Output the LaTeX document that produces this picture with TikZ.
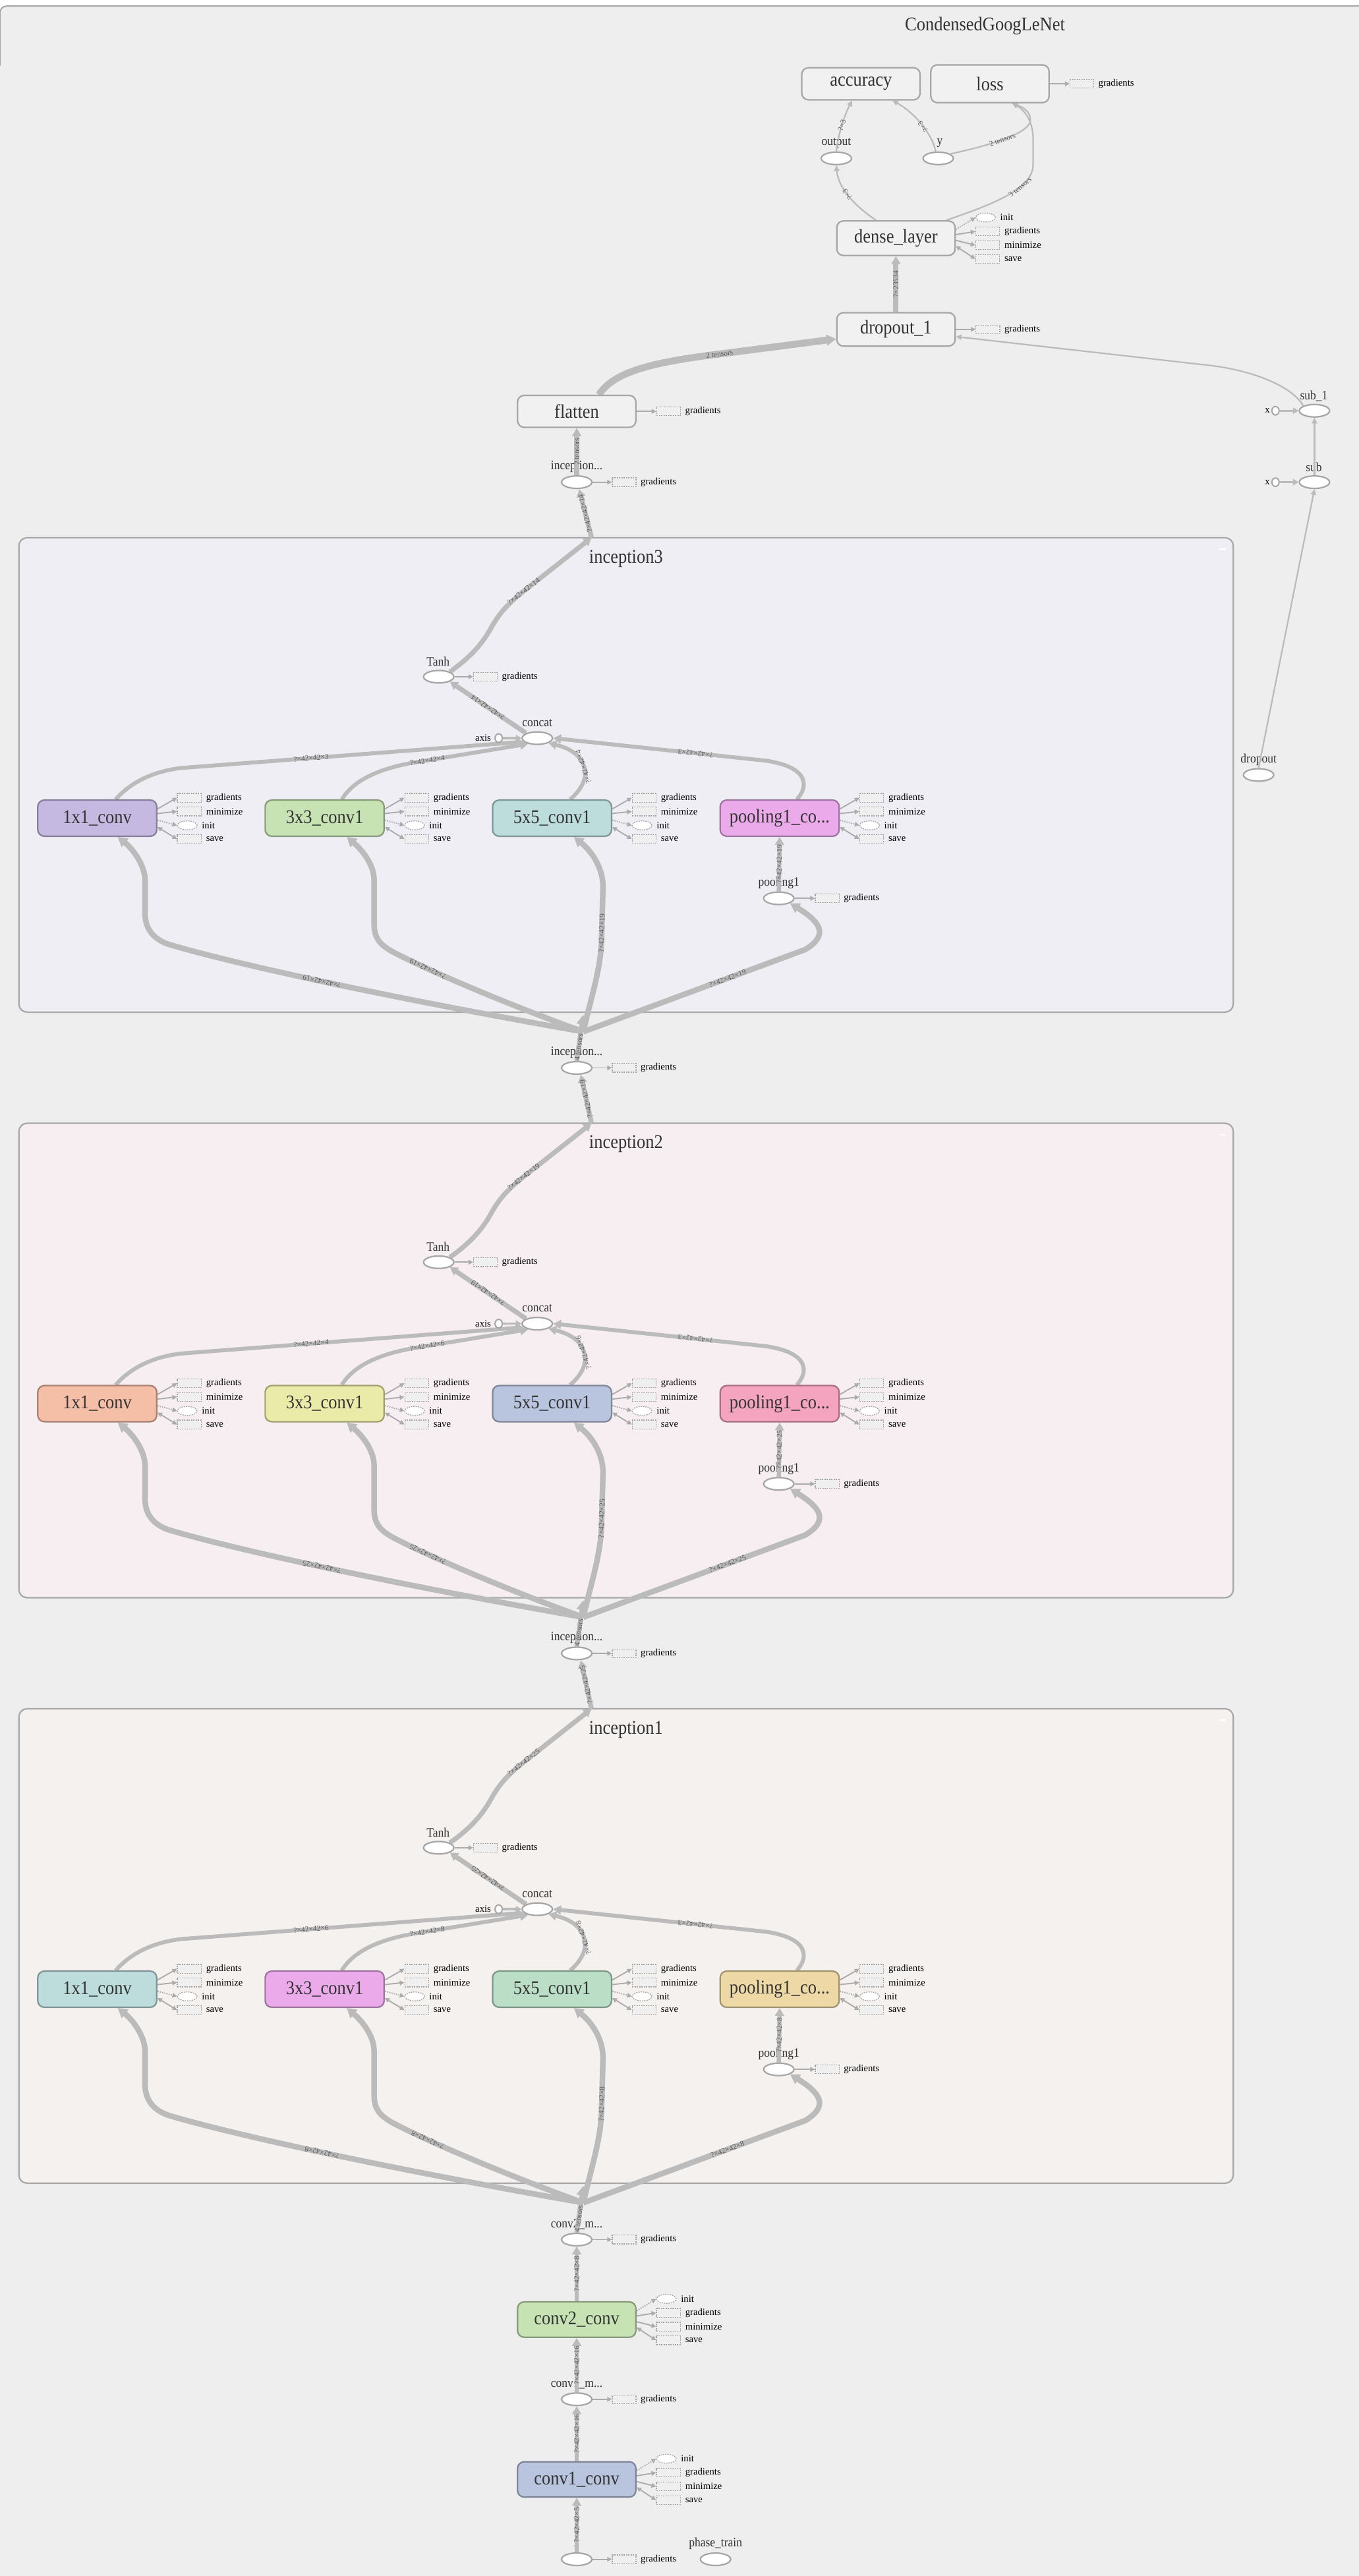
\documentclass[tikz,border=0pt]{standalone}
\usepackage{fontspec}
\setmainfont{Liberation Serif}
\newfontfamily\condserif{Liberation Serif}[FakeStretch=0.9]
\usetikzlibrary{shapes.geometric,arrows.meta,calc}
\pgfdeclarelayer{frames}
\pgfdeclarelayer{edgelayer}
\pgfsetlayers{frames,edgelayer,main}

% palette
\definecolor{pagebg}{HTML}{EEEEEE}
\definecolor{frameline}{HTML}{A6A6A6}
\definecolor{grpline}{HTML}{A8A8A8}
\definecolor{conncol}{HTML}{BBBBBB}
\definecolor{sidecol}{HTML}{ABABAB}
\definecolor{nodeline}{HTML}{A6A6A6}
\definecolor{plainfill}{HTML}{F1F1F1}
\definecolor{gboxfill}{HTML}{EFEFEF}
\definecolor{dashcol}{HTML}{A4A4A4}
\definecolor{darktext}{HTML}{333333}
\definecolor{edgetext}{HTML}{5C5C5C}
\definecolor{bgthree}{HTML}{F0EEF5}
\definecolor{bgtwo}{HTML}{F6EEF1}
\definecolor{bgone}{HTML}{F5F1EF}
\definecolor{cpurple}{HTML}{C6B9E1}
\definecolor{cgreen}{HTML}{C7E3B3}
\definecolor{cteal}{HTML}{BCDDDC}
\definecolor{cmagenta}{HTML}{EBABEB}
\definecolor{csalmon}{HTML}{F5BEA6}
\definecolor{cyellow}{HTML}{EBEBA9}
\definecolor{cblue}{HTML}{B9C5DE}
\definecolor{cpink}{HTML}{F5A4BF}
\definecolor{cmint}{HTML}{BADFC6}
\definecolor{ctan}{HTML}{EED8A6}

\newcommand{\boxfnt}{\condserif\fontsize{11.8}{13}\selectfont}
\newcommand{\ellfnt}{\condserif\fontsize{7.8}{9}\selectfont}
\newcommand{\smallfnt}{\fontsize{5.9}{7}\selectfont}
\newcommand{\edgefnt}{\fontsize{4.6}{5.5}\selectfont}

\tikzset{
  opbox/.style={rectangle, draw=nodeline, fill=plainfill, rounded corners=4pt, line width=0.9pt,
    minimum width=72pt, minimum height=20pt, inner sep=0pt, font=\boxfnt, text=darktext},
  colbox/.style={opbox, minimum width=72.4pt, minimum height=22pt, fill=#1, draw=#1!68!black},
  opell/.style={ellipse, draw=nodeline, fill=white, line width=0.9pt, minimum width=18.4pt,
    minimum height=7.6pt, inner sep=0pt},
  tinyell/.style={ellipse, draw=nodeline, fill=white, line width=0.8pt, minimum width=4.4pt,
    minimum height=5.2pt, inner sep=0pt},
  gbox/.style={rectangle, draw=dashcol, fill=gboxfill, dash pattern=on 0.8pt off 0.6pt,
    line width=0.5pt, minimum width=14.5pt, minimum height=5.3pt, inner sep=0pt},
  iell/.style={ellipse, draw=dashcol, fill=white, dash pattern=on 0.8pt off 0.6pt,
    line width=0.5pt, minimum width=12pt, minimum height=5.4pt, inner sep=0pt},
  slab/.style={anchor=west, inner sep=0pt, font=\smallfnt, text=black},
  olab/.style={inner sep=0pt, font=\ellfnt, text=darktext},
  elab/.style={sloped, allow upside down, inner sep=0.2pt, font=\edgefnt, text=edgetext},
  thickconn/.style={draw=conncol, line width=#1, -{Triangle[length=5.8pt,width=6.4pt]}},
  midconn/.style={draw=conncol, line width=#1, -{Triangle[length=4.8pt,width=5.4pt]}},
  thinconn/.style={draw=conncol, line width=0.9pt, -{Triangle[length=3.4pt,width=3.2pt]}},
  axconn/.style={draw=conncol, line width=1.4pt, -{Triangle[length=3.4pt,width=3.8pt]}},
  sidearr/.style={draw=sidecol, line width=0.75pt, -{Triangle[length=2.8pt,width=2.8pt]}},
  sidedot/.style={sidearr, dash pattern=on 0.7pt off 0.7pt},
  sidesave/.style={draw=sidecol, line width=0.75pt,
    {Triangle[length=2.8pt,width=2.8pt]}-{Triangle[length=2.8pt,width=2.8pt]}},
}

% a "gradients" box to the right of a node
\newcommand{\gradR}[2]{%
  \node[gbox] (#1-gr) at ([xshift=#2pt]#1.east) {};
  \node[slab] at ([xshift=2.4pt]#1-gr.east) {gradients};
  \begin{pgfonlayer}{edgelayer}
    \draw[sidearr] (#1.east) -- (#1-gr.west);
  \end{pgfonlayer}}

% side outputs: gradients, minimize, init, save
\newcommand{\sideGMIS}[1]{%
  \node[gbox] (#1-g) at ([xshift=19.35pt,yshift=12.4pt]#1.east) {};
  \node[gbox] (#1-m) at ([xshift=19.35pt,yshift=4.1pt]#1.east) {};
  \node[iell] (#1-i) at ([xshift=18.1pt,yshift=-4.4pt]#1.east) {};
  \node[gbox] (#1-s) at ([xshift=19.35pt,yshift=-12.7pt]#1.east) {};
  \node[slab] at ([xshift=2.6pt]#1-g.east) {gradients};
  \node[slab] at ([xshift=2.6pt]#1-m.east) {minimize};
  \node[slab] at ([xshift=2.5pt]#1-i.east) {init};
  \node[slab] at ([xshift=2.6pt]#1-s.east) {save};
  \begin{pgfonlayer}{edgelayer}
    \draw[sidearr] ([yshift=5.6pt]#1.east) -- (#1-g.west);
    \draw[sidearr] ([yshift=2.8pt]#1.east) -- (#1-m.west);
    \draw[sidedot] ([yshift=-1.2pt]#1.east) -- (#1-i.west);
    \draw[sidesave] ([yshift=-5.4pt]#1.east) -- (#1-s.west);
  \end{pgfonlayer}}

% side outputs: init, gradients, minimize, save
\newcommand{\sideIGMS}[1]{%
  \node[iell] (#1-i) at ([xshift=18.1pt,yshift=12.6pt]#1.east) {};
  \node[gbox] (#1-g) at ([xshift=19.35pt,yshift=4.1pt]#1.east) {};
  \node[gbox] (#1-m) at ([xshift=19.35pt,yshift=-4.3pt]#1.east) {};
  \node[gbox] (#1-s) at ([xshift=19.35pt,yshift=-12.6pt]#1.east) {};
  \node[slab] at ([xshift=2.5pt]#1-i.east) {init};
  \node[slab] at ([xshift=2.6pt]#1-g.east) {gradients};
  \node[slab] at ([xshift=2.6pt]#1-m.east) {minimize};
  \node[slab] at ([xshift=2.6pt]#1-s.east) {save};
  \begin{pgfonlayer}{edgelayer}
    \draw[sidedot] ([yshift=5.3pt]#1.east) -- (#1-i.west);
    \draw[sidearr] ([yshift=2.2pt]#1.east) -- (#1-g.west);
    \draw[sidearr] ([yshift=-1.3pt]#1.east) -- (#1-m.west);
    \draw[sidesave] ([yshift=-4.8pt]#1.east) -- (#1-s.west);
  \end{pgfonlayer}}

% one inception module: #1 prefix, #2 vertical offset, #3 title,
% #4 tanh depth, #5-#7 branch depths, #8 input depth
\newcommand{\incblock}[8]{%
\begin{scope}[shift={(0,#2)}]
  \begin{pgfonlayer}{frames}
    \draw[fill=incbg, draw=grpline, line width=0.9pt, rounded corners=5pt]
      (11.5,327.3) rectangle (750.6,616.1);
    \node[font=\boxfnt, text=darktext, inner sep=0pt] (#1title) at (381,340) {#3};
    \draw[white, line width=1pt] (742,334.3) -- (746.2,334.3);
    \node[olab] at (327,439.9) {concat};
    \node[olab] at (266.6,402.5) {Tanh};
    \node[olab] at (474,537.6) {pooling1};
  \end{pgfonlayer}
  \node[colbox=inca] (#1a) at (59.2,498) {1x1\_conv};
  \node[colbox=incb] (#1b) at (197.6,498) {3x3\_conv1};
  \node[colbox=incc] (#1c) at (336,498) {5x5\_conv1};
  \node[colbox=incd] (#1d) at (474.5,498) {pooling1\_co...};
  \sideGMIS{#1a}\sideGMIS{#1b}\sideGMIS{#1c}\sideGMIS{#1d}
  \node[opell] (#1cat) at (327,449.3) {};
  \node[tinyell] (#1ax) at (303.5,449.3) {};
  \node[slab, anchor=east] at (299,449.3) {axis};
  \node[opell] (#1th) at (267,411.9) {};
  \gradR{#1th}{18.8}
  \node[opell] (#1pl) at (474,546.8) {};
  \gradR{#1pl}{19.8}
  \coordinate (#1top) at (360,327.3);
  \coordinate (#1fan) at (355,628);
  \coordinate (#1tip) at (355,617.7);
  \begin{pgfonlayer}{edgelayer}
    \draw[midconn=2.9pt] (#1th.north east) .. controls (285,401) and (293,393) .. (299,382)
      .. controls (304,373) and (309,368) .. (316,362) -- (#1top)
      node[elab,pos=0.06] {?×42×42×#4};
    \draw[midconn=2.9pt] (#1cat.north west) -- (#1th.south east)
      node[elab,pos=0.5] {?×42×42×#4};
    \draw[midconn=2.4pt] ([xshift=11.2pt]#1a.north) .. controls (78,478) and (90,470) .. (110,467.5)
      -- (#1cat.195) node[elab,pos=0.38] {?×42×42×#5};
    \draw[midconn=2.4pt] ([xshift=10.4pt]#1b.north) .. controls (214,477) and (226,469) .. (250,464.5)
      -- (#1cat.212) node[elab,pos=0.14] {?×42×42×#6};
    \draw[midconn=2.4pt] ([xshift=11pt]#1c.north) .. controls (362,474) and (358,458) .. (#1cat.south east)
      node[elab,pos=0.5] {?×42×42×#7};
    \draw[midconn=2.4pt] ([xshift=10.5pt]#1d.north) .. controls (492,479) and (493,467) .. (466,463)
      -- (#1cat.east) node[elab,pos=0.33] {?×42×42×3};
    \draw[axconn] (#1ax.east) -- (#1cat.west);
    \draw[midconn=2.6pt] (#1pl.north) -- (#1d.south) node[elab,pos=0.5] {?×42×42×#8};
    \draw[thickconn=3.4pt] (#1fan) .. controls (230,606) and (140,586) .. (102.3,574.7)
      node[elab,pos=0.5] {?×42×42×#8}
      .. controls (92,571) and (88.3,564) .. (88.3,556) -- (88.3,536)
      .. controls (88.3,526) and (80,516) .. ([xshift=12.4pt]#1a.south);
    \draw[thickconn=3.4pt] (#1fan) .. controls (300,608) and (255,588) .. (238,578.8)
      node[elab,pos=0.7] {?×42×42×#8}
      .. controls (230,574) and (227.7,570) .. (227.7,562) -- (227.7,536)
      .. controls (227.7,526) and (220,517) .. ([xshift=13.4pt]#1b.south);
    \draw[thickconn=3.4pt] (#1fan) .. controls (359,610) and (365,592) .. (366,575) -- (367,540)
      node[elab,pos=0.2] {?×42×42×#8}
      .. controls (367,528) and (360,518) .. ([xshift=13.2pt]#1c.south);
    \draw[thickconn=3.4pt] (#1fan) -- (490,578) node[elab,pos=0.65] {?×42×42×#8}
      .. controls (505,569) and (499,561) .. (#1pl.south east);
  \end{pgfonlayer}
\end{scope}}

\begin{document}
\begin{tikzpicture}[x=1pt,y=-1pt]
\useasboundingbox (0,0) rectangle (827,1568);
\begin{pgfonlayer}{frames}
  \fill[white] (0,0) rectangle (827,1568);
  \fill[pagebg, rounded corners=4pt] (0,3.7) rectangle (840,1580);
  \draw[frameline, line width=0.8pt, rounded corners=4pt] (0,40) -- (0,3.7) -- (840,3.7);
  \node[font=\boxfnt, text=darktext, inner sep=0pt] (gtitle) at (599.5,15.8) {CondensedGoogLeNet};
  \node[olab] at (509,87) {output};
  \node[olab] at (572,87) {y};
  \node[olab] at (351,284.1) {inception...};
  \node[olab] at (351,640.6) {inception...};
  \node[olab] at (351,997) {inception...};
  \node[olab] at (799.6,241) {sub\_1};
  \node[olab] at (799.6,284.2) {sub};
  \node[olab] at (766,462.3) {dropout};
  \node[olab] at (351,1353.8) {conv2\_m...};
  \node[olab] at (351,1451) {conv1\_m...};
  \node[olab] at (351,1548.4) {x};
  \node[olab] at (435.5,1548.4) {phase\_train};
\end{pgfonlayer}

% output head
\node[opbox, minimum height=19.5pt] (acc) at (524,51) {accuracy};
\node[opbox, minimum height=23pt] (loss) at (602.5,51) {loss};
\gradR{loss}{19.5}
\node[opell] (outp) at (509,96.4) {};
\node[opell] (yin) at (571,96.4) {};
\node[opbox, minimum height=21pt] (dense) at (545.3,145) {dense\_layer};
\sideIGMS{dense}
\node[opbox, minimum height=20.3pt] (drop1) at (545.3,200.5) {dropout\_1};
\gradR{drop1}{19.5}
\node[opbox, minimum height=19.4pt] (flat) at (351,250.4) {flatten};
\gradR{flat}{19.5}
\node[opell] (incout) at (351,293.5) {};
\gradR{incout}{19.2}
\node[opell] (sub1) at (800,250) {};
\node[tinyell] (sub1x) at (776.3,250) {};
\node[slab, anchor=east] at (773,250) {x};
\node[opell] (sub) at (800,293.5) {};
\node[tinyell] (subx) at (776.3,293.5) {};
\node[slab, anchor=east] at (773,293.5) {x};
\node[opell] (drop) at (766,471.7) {};

% inception modules
\colorlet{incbg}{bgthree}\colorlet{inca}{cpurple}\colorlet{incb}{cgreen}
\colorlet{incc}{cteal}\colorlet{incd}{cmagenta}
\incblock{ia}{0}{inception3}{14}{3}{4}{4}{19}
\colorlet{incbg}{bgtwo}\colorlet{inca}{csalmon}\colorlet{incb}{cyellow}
\colorlet{incc}{cblue}\colorlet{incd}{cpink}
\incblock{ib}{356.4}{inception2}{19}{4}{6}{6}{25}
\colorlet{incbg}{bgone}\colorlet{inca}{cteal}\colorlet{incb}{cmagenta}
\colorlet{incc}{cmint}\colorlet{incd}{ctan}
\incblock{ic}{712.8}{inception1}{25}{6}{8}{8}{8}

\node[opell] (incb) at (351,650) {};
\gradR{incb}{19.2}
\node[opell] (incc) at (351,1006.4) {};
\gradR{incc}{19.2}

% stem
\node[opell] (cm2) at (351,1363.2) {};
\gradR{cm2}{19.2}
\node[colbox=cgreen, minimum width=72pt, minimum height=21.5pt] (cv2) at (351,1411.9) {conv2\_conv};
\sideIGMS{cv2}
\node[opell] (cm1) at (351,1460.4) {};
\gradR{cm1}{19.2}
\node[colbox=cblue, minimum width=72pt, minimum height=21.5pt] (cv1) at (351,1509.2) {conv1\_conv};
\sideIGMS{cv1}
\node[opell] (xin) at (351,1557.8) {};
\gradR{xin}{19.2}
\node[opell] (phase) at (435.5,1557.8) {};

\begin{pgfonlayer}{edgelayer}
  % head
  \draw[midconn=3.2pt] (drop1.north) -- (dense.south) node[elab,pos=0.5] {?×23534};
  \draw[thinconn] ([xshift=-12.1pt]dense.north) .. controls (518,124) and (510,113) .. (outp.south)
    node[elab,pos=0.5] {?×3};
  \draw[thinconn] (outp.north) .. controls (510,82) and (514,70) .. ([xshift=-5.4pt]acc.south)
    node[elab,pos=0.5] {?×3};
  \draw[thinconn] ([xshift=-1.5pt]yin.north) .. controls (568,84) and (559,70) .. ([xshift=19.2pt]acc.south)
    node[elab,pos=0.5] {?×3};
  \draw[thinconn] (yin.20) .. controls (600,89) and (625,82) .. (627,74)
    node[elab,pos=0.5] {2 tensors}
    .. controls (628,68) and (622,65) .. ([xshift=13.5pt]loss.south);
  \draw[thinconn] ([xshift=30.7pt]dense.north) .. controls (605,124) and (628.8,115) .. (628.8,100)
    node[elab,pos=0.65] {3 tensors}
    -- (628.8,85) .. controls (628.8,72) and (622,66) .. ([xshift=13.5pt]loss.south);
  \draw[thickconn=4.2pt] ([xshift=13.5pt]flat.north) .. controls (372,229) and (388,222) .. (430,216.5)
    -- ([yshift=-5.8pt]drop1.west) node[elab,pos=0.1] {2 tensors};
  \draw[thinconn] (sub1.north west) .. controls (787,236) and (765,226) .. (737,222.5)
    -- ([yshift=-4.4pt]drop1.east);
  \draw[thinconn] (sub.north) -- (sub1.south);
  \draw[thinconn] (drop.north) -- (sub.south);
  \draw[axconn] (sub1x.east) -- (sub1.west);
  \draw[axconn] (subx.east) -- (sub.west);
  \draw[midconn=2.9pt] (incout.north) -- (flat.south) node[elab,pos=0.5] {2 tensors};
  % between modules
  \draw[midconn=2.9pt] (iatop) -- ([xshift=1.5pt]incout.south) node[elab,pos=0.5] {?×42×42×14};
  \draw[midconn=2.9pt] (ibtop) -- ([xshift=2.5pt]incb.south) node[elab,pos=0.5] {?×42×42×19};
  \draw[thickconn=2.9pt] (incb.north) -- (iatip) node[elab,pos=0.3] {4 tensors};
  \draw[midconn=2.9pt] (ictop) -- ([xshift=2.5pt]incc.south) node[elab,pos=0.5] {?×42×42×25};
  \draw[thickconn=2.9pt] (incc.north) -- (ibtip) node[elab,pos=0.3] {4 tensors};
  % stem
  \draw[thickconn=2.9pt] (cm2.north) -- (ictip) node[elab,pos=0.3] {4 tensors};
  \draw[midconn=2.4pt] (cv2.north) -- (cm2.south) node[elab,pos=0.5] {?×42×42×8};
  \draw[midconn=2.4pt] (cm1.north) -- (cv2.south) node[elab,pos=0.5] {?×42×42×16};
  \draw[midconn=2.4pt] (cv1.north) -- (cm1.south) node[elab,pos=0.5] {?×42×42×16};
  \draw[midconn=2.2pt] (xin.north) -- (cv1.south) node[elab,pos=0.5] {?×42×42×5};
\end{pgfonlayer}
\end{tikzpicture}
\end{document}
